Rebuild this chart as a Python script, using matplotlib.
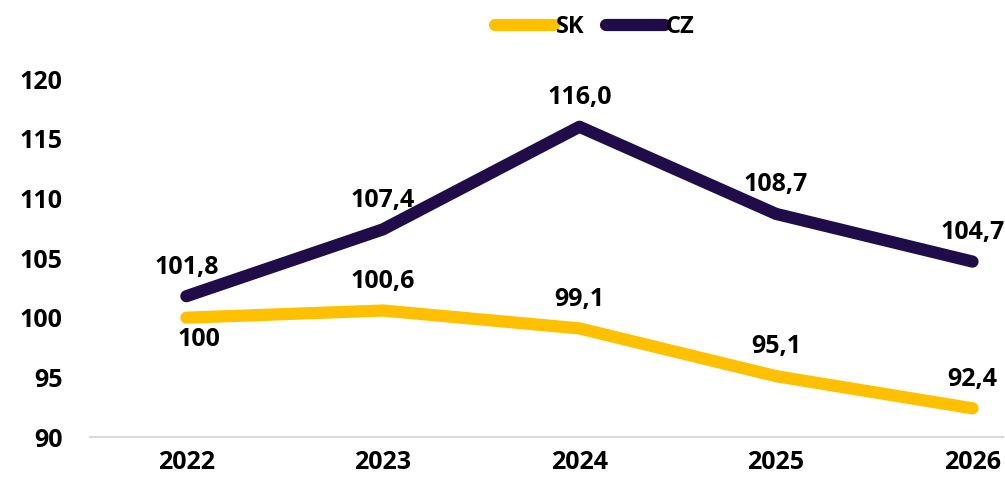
import matplotlib
matplotlib.use("Agg")
import matplotlib.pyplot as plt

years = ["2022", "2023", "2024", "2025", "2026"]
sk = [100.0, 100.6, 99.1, 95.1, 92.4]
cz = [101.8, 107.4, 116.0, 108.7, 104.7]
sk_labels = ["100", "100,6", "99,1", "95,1", "92,4"]
cz_labels = ["101,8", "107,4", "116,0", "108,7", "104,7"]

SK_COLOR = "#FFC000"
CZ_COLOR = "#1F0C48"

plt.rcParams['font.family'] = ['Open Sans', 'DejaVu Sans']
plt.rcParams['font.weight'] = 'bold'

fig = plt.figure(figsize=(10.05, 4.86), dpi=100)
ax = fig.add_axes([0.0896, 0.1008, 0.9084, 0.7366])

x = list(range(len(years)))
ax.plot(x, sk, color=SK_COLOR, lw=8.8, solid_capstyle='round', solid_joinstyle='round', label="SK")
ax.plot(x, cz, color=CZ_COLOR, lw=8.8, solid_capstyle='round', solid_joinstyle='round', label="CZ")

# data labels
for i, (v, t) in enumerate(zip(cz, cz_labels)):
    ax.annotate(t, (i, v), xytext=(0, 12), textcoords='offset points',
                ha='center', va='bottom', fontsize=18, fontweight='bold')
for i, (v, t) in enumerate(zip(sk, sk_labels)):
    if i == 0:
        ax.annotate(t, (i, v), xytext=(9, -7), textcoords='offset points',
                    ha='center', va='top', fontsize=18, fontweight='bold')
    else:
        ax.annotate(t, (i, v), xytext=(0, 12), textcoords='offset points',
                    ha='center', va='bottom', fontsize=18, fontweight='bold')

ax.set_xlim(-0.49, 4.155)
ax.set_ylim(90, 120)
ax.set_yticks(range(90, 121, 5))
ax.set_xticks(x)
ax.set_xticklabels(years)
ax.tick_params(axis='both', length=0, labelsize=18)
ax.tick_params(axis='x', pad=9)
ax.tick_params(axis='y', pad=20)
for lab in ax.get_xticklabels() + ax.get_yticklabels():
    lab.set_fontweight('bold')

for s in ['top', 'right', 'left']:
    ax.spines[s].set_visible(False)
ax.spines['bottom'].set_color('#D9D9D9')
ax.spines['bottom'].set_linewidth(1.5)

leg = fig.legend(loc='upper center', bbox_to_anchor=(0.592, 1.012), ncol=2, frameon=False,
                 fontsize=17, handlelength=2.5, handletextpad=0.05, columnspacing=0.9)
for t in leg.get_texts():
    t.set_fontweight('bold')

fig.savefig("out.png", dpi=100)
